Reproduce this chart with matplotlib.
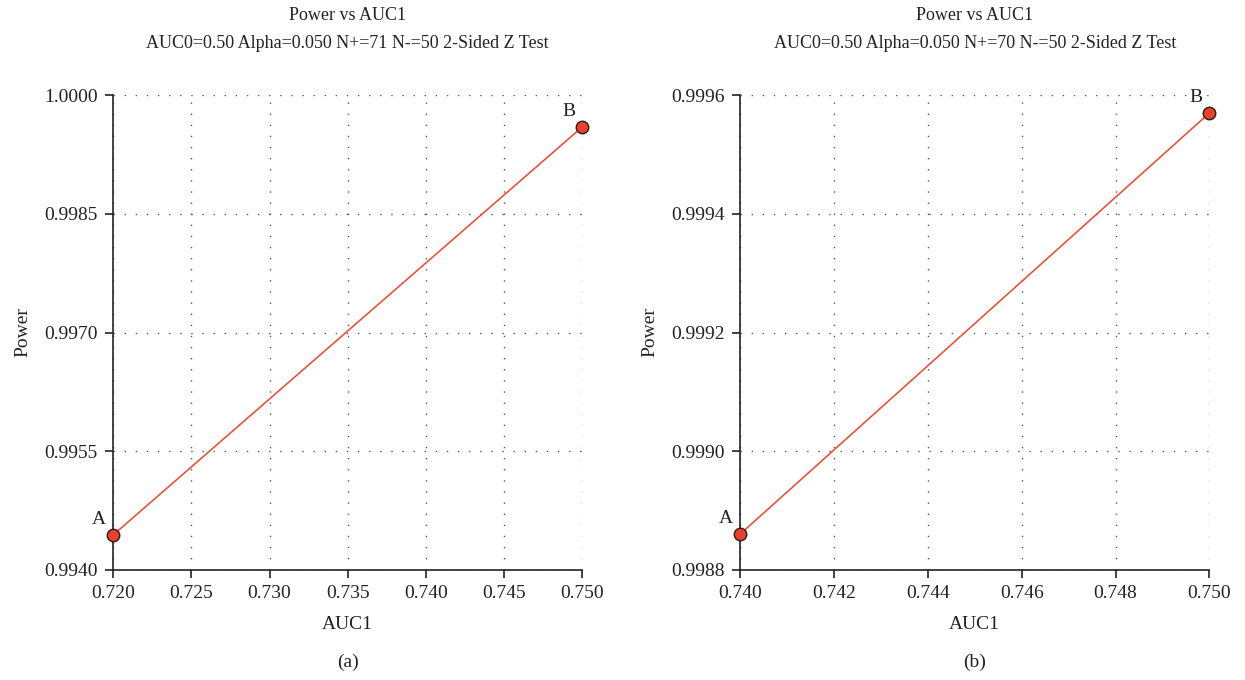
import matplotlib
matplotlib.use("Agg")
import matplotlib.pyplot as plt

plt.rcParams['font.family'] = ['Liberation Serif', 'DejaVu Serif']

# panel (a)
auc1_a = [0.720, 0.750]
power_a = [0.99444, 0.99960]
labels_a = ["A", "B"]
xticks_a = [0.720, 0.725, 0.730, 0.735, 0.740, 0.745, 0.750]
yticks_a = [0.9940, 0.9955, 0.9970, 0.9985, 1.0000]
title_a = "Power vs AUC1\nAUC0=0.50 Alpha=0.050 N+=71 N-=50 2-Sided Z Test"

# panel (b)
auc1_b = [0.740, 0.750]
power_b = [0.99886, 0.99957]
labels_b = ["A", "B"]
xticks_b = [0.740, 0.742, 0.744, 0.746, 0.748, 0.750]
yticks_b = [0.9988, 0.9990, 0.9992, 0.9994, 0.9996]
title_b = "Power vs AUC1\nAUC0=0.50 Alpha=0.050 N+=70 N-=50 2-Sided Z Test"

line_col = "#f0462a"
txt_col = "#222222"

fig = plt.figure(figsize=(12.45, 6.8), dpi=100)
ax1 = fig.add_axes([0.0908, 0.162, 0.377, 0.698])
ax2 = fig.add_axes([0.5944, 0.162, 0.377, 0.698])


def draw(ax, x, y, labels, xt, yt, title, xfmt, tag):
    ax.plot(x, y, color=line_col, lw=1.1, zorder=3)
    ax.plot(x, y, 'o', ms=9, mfc="#e8402a", mec="#2a1a18", mew=1.0,
            ls='none', zorder=4, clip_on=False)
    for xi, yi, lab in zip(x, y, labels):
        ax.annotate(lab, (xi, yi), xytext=(-5, 5), textcoords='offset points',
                    ha='right', va='bottom', fontsize=14, color=txt_col)
    ax.set_xlim(xt[0], xt[-1])
    ax.set_ylim(yt[0], yt[-1])
    ax.set_xticks(xt)
    ax.set_xticklabels([xfmt % v for v in xt])
    ax.set_yticks(yt)
    ax.set_yticklabels(["%.4f" % v for v in yt])
    ax.grid(True, ls=(0, (1, 7)), color="#555555", lw=1.0)
    ax.set_axisbelow(True)
    for s in ['top', 'right']:
        ax.spines[s].set_visible(False)
    for s in ['left', 'bottom']:
        ax.spines[s].set_color(txt_col)
        ax.spines[s].set_linewidth(1.2)
    ax.tick_params(direction='out', length=6, width=1.2, colors=txt_col,
                   labelsize=14, pad=5)
    ax.set_title(title, fontsize=13, color=txt_col, pad=34, linespacing=1.85)
    ax.set_xlabel("AUC1", fontsize=14, color=txt_col, labelpad=10)
    ax.set_ylabel("Power", fontsize=14, color=txt_col, labelpad=9)
    ax.text(0.5, -0.194, tag, transform=ax.transAxes, ha='center', va='center',
            fontsize=14, color=txt_col)


draw(ax1, auc1_a, power_a, labels_a, xticks_a, yticks_a, title_a, "%.3f", "(a)")
draw(ax2, auc1_b, power_b, labels_b, xticks_b, yticks_b, title_b, "%.3f", "(b)")

fig.savefig("out.png", dpi=100)
